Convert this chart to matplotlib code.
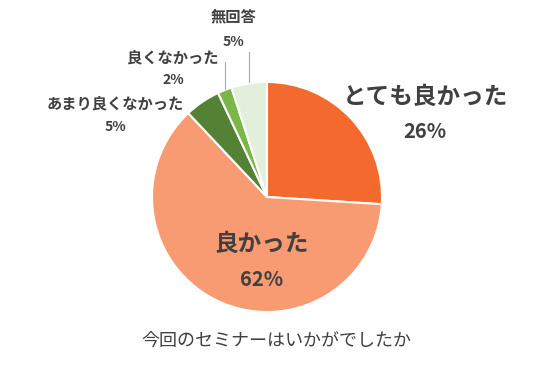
import matplotlib
matplotlib.use("Agg")
import matplotlib.pyplot as plt

plt.rcParams['font.family'] = ['Noto Sans CJK JP', 'DejaVu Sans']

categories = ["とても良かった", "良かった", "あまり良くなかった", "良くなかった", "無回答"]
values = [26, 62, 5, 2, 5]
colors = ["#F46A2E", "#F89B73", "#548235", "#7AB648", "#E2EFDA"]
title = "今回のセミナーはいかがでしたか"

W, H = 536, 371
fig = plt.figure(figsize=(W / 100, H / 100), dpi=100)
ax = fig.add_axes([0, 0, 1, 1])

cx, cy, r = 267, H - 197, 115
ax.pie(values, colors=colors, startangle=90, counterclock=False,
       center=(cx, cy), radius=r, frame=True,
       wedgeprops=dict(edgecolor='white', linewidth=1.5))
ax.set_xlim(0, W)
ax.set_ylim(0, H)
ax.set_aspect('auto')
ax.axis('off')

tc = "#404040"
# label positions (pixel coords from top)
big = {0: (425, 97, 131), 1: (262, 244, 280)}
small = {2: (115, 103, 127), 3: (173, 57, 80), 4: (233, 16, 42)}
for i, (x, y1, y2) in big.items():
    ax.text(x, H - y1, categories[i], ha='center', va='center', fontsize=17,
            fontweight='bold', color=tc)
    ax.text(x, H - y2, f"{values[i]}%", ha='center', va='center', fontsize=14.5,
            fontweight='bold', color=tc)
for i, (x, y1, y2) in small.items():
    ax.text(x, H - y1, categories[i], ha='center', va='center', fontsize=11,
            fontweight='bold', color=tc)
    ax.text(x, H - y2, f"{values[i]}%", ha='center', va='center', fontsize=10,
            fontweight='bold', color=tc)

# leader lines
ax.plot([225, 225], [H - 62, H - 89], color='#A6A6A6', lw=0.8)
ax.plot([249, 249], [H - 52, H - 82], color='#A6A6A6', lw=0.8)

ax.text(276, H - 341, title, ha='center', va='center', fontsize=13, color=tc)

fig.savefig("out.png", dpi=100, facecolor='white')
